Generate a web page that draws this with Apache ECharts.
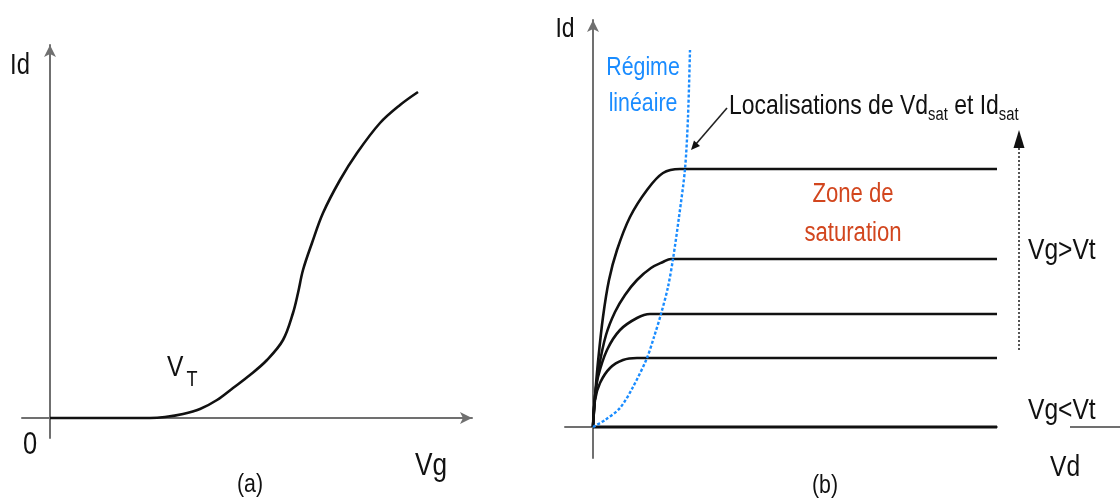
<!DOCTYPE html>
<html>
<head>
<meta charset="utf-8">
<script src="https://cdn.jsdelivr.net/npm/echarts@6/dist/echarts.min.js"></script>
<style>
html,body{margin:0;padding:0;background:#fff;}
#chart{width:1120px;height:499px;}
</style>
</head>
<body>
<div id="chart"></div>
<script>
// ---- (a) transfer characteristic Id(Vg) ----
const vgA = [0, 50, 93, 100, 115, 133, 150, 167, 183, 200, 217, 233, 243, 248, 253, 262, 273, 290, 307, 330, 350, 368];
const idA = [0, 0, 0, 0, 1, 4, 9, 18, 30, 43, 58, 78, 105, 125, 148, 175, 205, 238, 265, 295, 313, 326];

// ---- (b) output characteristics Id(Vd) for several Vg ----
const vd1 = [0, 2, 5, 10, 16, 24, 37, 54, 70, 87, 404];
const id1 = [0, 30, 65, 110, 147, 177, 210, 237, 254, 258, 258];
const vd2 = [0, 2, 6, 13, 22, 32, 44, 58, 70, 78, 404];
const id2 = [0, 30, 60, 92, 115, 132, 147, 159, 165, 168, 168];
const vd3 = [0, 2, 5, 14, 27, 44, 57, 404];
const id3 = [0, 30, 50, 77, 97, 109, 113, 113];
const vd4 = [0, 2, 7, 17, 30, 44, 404];
const id4 = [0, 27, 44, 59, 67, 69, 69];
const vd5 = [0, 404];
const id5 = [0, 0];
// locus of (Vd_sat, Id_sat)
const vdSat = [0, 12, 27, 40, 54, 61, 68, 75, 80, 86, 92, 95, 97];
const idSat = [0, 7, 19, 40, 69, 90, 113, 140, 168, 210, 258, 310, 377];

function pairs(xs, ys){ return xs.map((x,i)=>[x, ys[i]]); }

// font detection: prefer a narrow face, otherwise compress a normal one
const measureCtx = document.createElement('canvas').getContext('2d');
function hasFont(f){
  measureCtx.font = '40px monospace';
  const w0 = measureCtx.measureText('Localisations de Vd').width;
  measureCtx.font = '40px "' + f + '", monospace';
  return measureCtx.measureText('Localisations de Vd').width !== w0;
}
const NARROW = hasFont('Liberation Sans Narrow');
const FONT = NARROW ? 'Liberation Sans Narrow' : 'Liberation Sans';
const SX = NARROW ? 1 : 0.82;
function textWidth(t, size){
  measureCtx.font = size + 'px "' + FONT + '"';
  return measureCtx.measureText(t).width * SX;
}

const AXIS = '#707070';
const INK = '#111111';
const BLUE = '#1a8cff';
const RED = '#d2461e';

function txt(text, x, y, size, opts){
  opts = opts || {};
  return {
    type: 'text', x: x, y: y, scaleX: SX, z: 100,
    style: {
      text: text, fontFamily: FONT, fontSize: size,
      fill: opts.fill || INK,
      align: opts.align || 'center',
      verticalAlign: 'middle'
    }
  };
}
// a run of text pieces [text, size, dy, gapBefore] laid out left to right
function run(pieces, x, y){
  const out = [];
  let cx = x;
  pieces.forEach(p => {
    cx += (p[3] || 0);
    out.push(txt(p[0], cx, y + (p[2] || 0), p[1], {align: 'left'}));
    cx += textWidth(p[0], p[1]);
  });
  return out;
}

const chart = echarts.init(document.getElementById('chart'), null, {renderer: 'canvas'});

const lineBase = {type: 'line', showSymbol: false, symbol: 'none', silent: true, animation: false};
function curve(xs, ys, w, extra){
  return Object.assign({}, lineBase, {xAxisIndex: 1, yAxisIndex: 1, smooth: 0.35, data: pairs(xs, ys),
    lineStyle: {color: INK, width: w}}, extra || {});
}

const graphics = [
  // (a) labels
  txt('Id', 20, 66, 29),
  txt('0', 30, 445, 31),
  txt('Vg', 415, 466, 32, {align: 'left'}),
  txt('(a)', 250, 485, 26),
  // (b) labels
  txt('Id', 565, 29, 28),
  txt('Régime', 643, 68, 26, {fill: BLUE}),
  txt('linéaire', 643, 104, 26, {fill: BLUE}),
  txt('Zone de', 853, 195, 27, {fill: RED}),
  txt('saturation', 853, 234, 27, {fill: RED}),
  txt('Vg>Vt', 1028, 251, 30, {align: 'left'}),
  txt('Vg<Vt', 1028, 411, 30, {align: 'left'}),
  txt('Vd', 1050, 468, 30, {align: 'left'}),
  txt('(b)', 825, 486, 26),
  // annotation arrow toward the Vd_sat locus
  {type: 'line', z: 100, shape: {x1: 727, y1: 108, x2: 696, y2: 144}, style: {stroke: '#222', lineWidth: 1.6}},
  {type: 'polygon', z: 100, shape: {points: [[691, 150], [700, 146], [694, 140.5]]}, style: {fill: '#111'}},
  // dotted "Vg increasing" arrow
  {type: 'line', z: 100, shape: {x1: 1019, y1: 350, x2: 1019, y2: 146}, style: {stroke: '#555', lineWidth: 2, lineDash: [2, 2]}},
  {type: 'polygon', z: 100, shape: {points: [[1019, 130], [1013.5, 148], [1024.5, 148]]}, style: {fill: '#111'}},
  // continuation of the Vd axis at the far right
  {type: 'line', z: 100, shape: {x1: 1070, y1: 427, x2: 1120, y2: 427}, style: {stroke: AXIS, lineWidth: 2}}
].concat(
  run([['V', 30, 0], ['T', 22, 12, 3]], 167, 368),
  run([['Localisations de Vd', 28, 0], ['sat', 18, 9], [' et Id', 28, 0], ['sat', 18, 9]], 729, 106)
);

chart.setOption({
  animation: false,
  backgroundColor: '#ffffff',
  grid: [
    {left: 22, top: 45, width: 450, height: 393},
    {left: 565, top: 20, width: 432, height: 438}
  ],
  xAxis: [
    {gridIndex: 0, type: 'value', min: -28, max: 422,
     axisLine: {onZero: true, lineStyle: {color: AXIS, width: 2}, symbol: ['none', 'arrow'], symbolSize: [9, 12]},
     axisTick: {show: false}, axisLabel: {show: false}, splitLine: {show: false}},
    {gridIndex: 1, type: 'value', min: -28, max: 404,
     axisLine: {onZero: true, lineStyle: {color: AXIS, width: 2}},
     axisTick: {show: false}, axisLabel: {show: false}, splitLine: {show: false}}
  ],
  yAxis: [
    {gridIndex: 0, type: 'value', min: -20, max: 373,
     axisLine: {onZero: true, lineStyle: {color: AXIS, width: 2}, symbol: ['none', 'arrow'], symbolSize: [9, 12]},
     axisTick: {show: false}, axisLabel: {show: false}, splitLine: {show: false}},
    {gridIndex: 1, type: 'value', min: -31, max: 407,
     axisLine: {onZero: true, lineStyle: {color: AXIS, width: 2}, symbol: ['none', 'arrow'], symbolSize: [9, 12]},
     axisTick: {show: false}, axisLabel: {show: false}, splitLine: {show: false}}
  ],
  series: [
    Object.assign({}, lineBase, {xAxisIndex: 0, yAxisIndex: 0, smooth: 0.35, data: pairs(vgA, idA),
      lineStyle: {color: INK, width: 2.6}}),
    curve(vd5, id5, 3.2),
    curve(vd4, id4, 2.6),
    curve(vd3, id3, 2.6),
    curve(vd2, id2, 2.6),
    curve(vd1, id1, 2.6),
    curve(vdSat, idSat, 2.4, {smooth: 0.3, z: 5, lineStyle: {color: BLUE, width: 2.4, type: [3, 2]}})
  ],
  graphic: graphics
});
</script>
</body>
</html>
